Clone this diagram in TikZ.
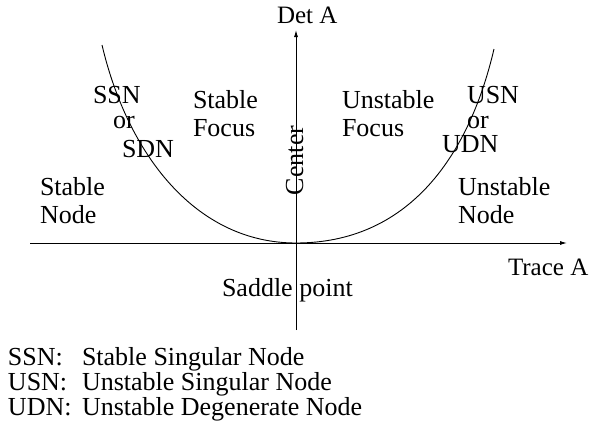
\documentclass[tikz,border=0pt]{standalone}
\usepackage{fontspec}
\setmainfont{Liberation Serif}
\usetikzlibrary{arrows.meta}
\begin{document}
\begin{tikzpicture}[x=1pt,y=-1pt,
  lbl/.style={inner sep=0pt,outer sep=0pt,anchor=base west,font=\fontsize{26}{29}\selectfont},
  axlbl/.style={lbl,font=\fontsize{25}{28}\selectfont},
  axis/.style={line width=0.9pt,-{Latex[length=7pt,width=4pt]}},
  curve/.style={line width=0.9pt}]
\useasboundingbox (0,0) rectangle (590,434);
% axes
\coordinate (O) at (296,243);
\coordinate (xl) at (30,243);
\coordinate (xr) at (567,243);
\coordinate (yb) at (296,330);
\coordinate (yt) at (296,30);
\draw[axis] (xl) -- (xr);
\draw[axis] (yb) -- (yt);
% curve
\coordinate (lt) at (102,45);
\coordinate (rt) at (494,49);
\draw[curve] (O) .. controls (196,243) and (128,155) .. (lt);
\draw[curve] (O) .. controls (406,243) and (468,160) .. (rt);
% axis labels
\node[axlbl] (det) at (277,23) {Det A};
\node[axlbl] (trace) at (508,275) {Trace A};
\node[lbl] (saddle) at (222,296) {Saddle point};
\node[lbl,rotate=90] (center) at (303,195) {Center};
% left regions
\node[lbl] (ssn) at (93,103) {SSN};
\node[lbl] (or1) at (113,128) {or};
\node[lbl] (sdn) at (122,157) {SDN};
\node[lbl] (sf1) at (193,108) {Stable};
\node[lbl] (sf2) at (193,136) {Focus};
\node[lbl] (sn1) at (40,195) {Stable};
\node[lbl] (sn2) at (40,223) {Node};
% right regions
\node[lbl] (uf1) at (342,108) {Unstable};
\node[lbl] (uf2) at (342,136) {Focus};
\node[lbl] (usn) at (467,103) {USN};
\node[lbl] (or2) at (467,128) {or};
\node[lbl] (udn) at (442,152) {UDN};
\node[lbl] (un1) at (458,195) {Unstable};
\node[lbl] (un2) at (458,223) {Node};
% legend
\node[lbl] (k1) at (8,365) {SSN:};
\node[lbl] (d1) at (82,365) {Stable Singular Node};
\node[lbl] (k2) at (8,390) {USN:};
\node[lbl] (d2) at (82,390) {Unstable Singular Node};
\node[lbl] (k3) at (8,415) {UDN:};
\node[lbl] (d3) at (82,415) {Unstable Degenerate Node};
\end{tikzpicture}
\end{document}
